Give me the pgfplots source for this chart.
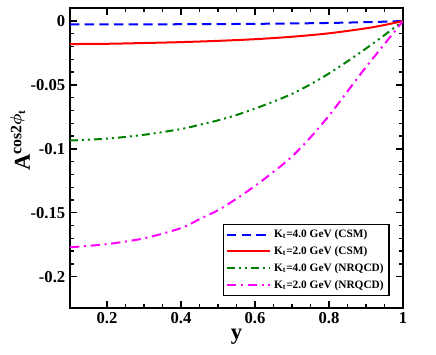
\documentclass[border=0pt]{standalone}
\usepackage{amsmath}
\usepackage{fontspec}
\setmainfont{Liberation Serif}
\usepackage{pgfplots}
\pgfplotsset{compat=1.18}
\definecolor{curveBlue}{HTML}{0000FF}
\definecolor{curveRed}{HTML}{FF0000}
\definecolor{curveGreen}{HTML}{008000}
\definecolor{curveMagenta}{HTML}{FF00FF}

\begin{document}
\begin{tikzpicture}
\begin{axis}[
    at={(0,0)}, anchor=south west,
    scale only axis,
    width=249.75pt, height=225pt,
    xmin=0.1, xmax=1,
    ymin=-0.2245, ymax=0.0102,
    xtick={0.2,0.4,0.6,0.8,1},
    xticklabels={0.2,0.4,0.6,0.8,1},
    ytick={-0.2,-0.15,-0.1,-0.05,0},
    yticklabels={-0.2,-0.15,-0.1,-0.05,0},
    minor x tick num=3,
    minor y tick num=4,
    major tick length=5pt,
    minor tick length=3pt,
    every tick/.style={black, line width=1pt},
    axis line style={line width=1.5pt},
    tick label style={font=\fontsize{12.5}{12.5}\selectfont\bfseries},
    xlabel={y},
    ylabel={A$^{\text{\bfseries cos2}\boldsymbol{\phi}_{\text{\bfseries t}}}$},
    xlabel style={font=\fontsize{17}{17}\selectfont\bfseries, at={(axis description cs:0.5,-0.095)}, anchor=center},
    ylabel style={font=\fontsize{17}{17}\selectfont\bfseries, at={(axis description cs:-0.15,0.56)}, anchor=center},
    legend style={at={(axis description cs:0.96,0.04)}, anchor=south east,
        font=\fontsize{8.5}{10}\selectfont\bfseries, draw=black, line width=1pt,
        row sep=1.2pt, inner sep=2pt},
    legend cell align=left,
    legend image code/.code={\draw[#1, line width=1.5pt] (0cm,0cm) -- (1.15cm,0cm);},
]

\addplot[curveBlue, line width=1.5pt, dash pattern=on 7pt off 4pt, smooth] coordinates {
    (0.1,-0.0027) (0.2,-0.0027) (0.3,-0.0026) (0.4,-0.0025) (0.5,-0.0024)
    (0.6,-0.0022) (0.7,-0.0019) (0.8,-0.0015) (0.9,-0.0009) (0.95,-0.0005) (1,0)
};
\addlegendentry{K$_{\text{\bfseries t}}$=4.0 GeV (CSM)}

\addplot[curveRed, line width=1.5pt, smooth] coordinates {
    (0.1,-0.0180) (0.2,-0.0178) (0.3,-0.0172) (0.4,-0.0165) (0.5,-0.0155)
    (0.6,-0.0142) (0.7,-0.0123) (0.8,-0.0096) (0.9,-0.0057) (0.95,-0.0031) (1,0)
};
\addlegendentry{K$_{\text{\bfseries t}}$=2.0 GeV (CSM)}

\addplot[curveGreen, line width=1.5pt, dash pattern=on 6pt off 3pt on 1.5pt off 3pt on 1.5pt off 3pt, smooth] coordinates {
    (0.1,-0.0935) (0.2,-0.0920) (0.3,-0.0890) (0.4,-0.0845) (0.45,-0.0812)
    (0.5,-0.0777) (0.55,-0.0735) (0.6,-0.0685) (0.65,-0.0630) (0.7,-0.0570)
    (0.75,-0.0495) (0.8,-0.0410) (0.85,-0.0315) (0.9,-0.0215) (0.95,-0.0110) (1,0)
};
\addlegendentry{K$_{\text{\bfseries t}}$=4.0 GeV (NRQCD)}

\addplot[curveMagenta, line width=1.5pt, dash pattern=on 7pt off 3.5pt on 1.5pt off 3.5pt, smooth] coordinates {
    (0.1,-0.1770) (0.2,-0.1745) (0.3,-0.1700) (0.4,-0.1620) (0.45,-0.1550)
    (0.5,-0.1480) (0.55,-0.1390) (0.6,-0.1290) (0.65,-0.1180) (0.7,-0.1060)
    (0.75,-0.0910) (0.8,-0.0740) (0.85,-0.0550) (0.9,-0.0360) (0.95,-0.0180) (1,0)
};
\addlegendentry{K$_{\text{\bfseries t}}$=2.0 GeV (NRQCD)}

\end{axis}
\pgfresetboundingbox
\path (-52.5pt,-34.5pt) rectangle (274.5pt,231pt);
\end{tikzpicture}
\end{document}
